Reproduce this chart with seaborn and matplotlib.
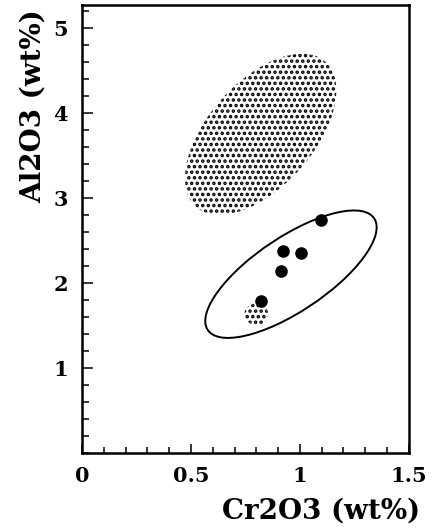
import matplotlib
matplotlib.use("Agg")
import matplotlib.pyplot as plt
from matplotlib.patches import Ellipse
from matplotlib.ticker import MultipleLocator, FixedLocator, FixedFormatter
import seaborn as sns
import pandas as pd

# ---- data ----
cr2o3 = [0.820, 0.913, 0.921, 1.005, 1.096]
al2o3 = [1.792, 2.145, 2.380, 2.357, 2.741]

# stippled field (upper)
field_center = (0.820, 3.747)
field_width = 1.936
field_height = 0.570
field_angle = 77.6

# small stippled patch (lower)
patch_center = (0.80, 1.63)
patch_width = 0.11
patch_height = 0.25
patch_angle = 0.0

# open ellipse around the points
ell_center = (0.959, 2.102)
ell_width = 1.619
ell_height = 0.494
ell_angle = 66.6

x_ticks = [0, 0.5, 1, 1.5]
x_ticklabels = ["0", "0.5", "1", "1.5"]
y_ticks = [1, 2, 3, 4, 5]
y_ticklabels = ["1", "2", "3", "4", "5"]
x_label = "Cr2O3 (wt%)"
y_label = "Al2O3 (wt%)"

# ---- style ----
sns.set_theme(style="ticks")
plt.rcParams["font.family"] = ["DejaVu Serif"]
plt.rcParams["font.weight"] = "bold"
plt.rcParams["hatch.linewidth"] = 1.7
plt.rcParams["hatch.color"] = "black"

fig = plt.figure(figsize=(4.34, 5.31), dpi=100)
ax = fig.add_axes([0.189, 0.147, 0.753, 0.844])

df = pd.DataFrame({"x": cr2o3, "y": al2o3})

ax.add_patch(Ellipse(field_center, field_width, field_height, angle=field_angle,
                     facecolor="none", edgecolor="black", linewidth=0,
                     hatch="...", zorder=1))
ax.add_patch(Ellipse(patch_center, patch_width, patch_height, angle=patch_angle,
                     facecolor="none", edgecolor="black", linewidth=0,
                     hatch="...", zorder=1))
ax.add_patch(Ellipse(ell_center, ell_width, ell_height, angle=ell_angle,
                     facecolor="none", edgecolor="black", linewidth=1.4, zorder=2))

sns.scatterplot(data=df, x="x", y="y", ax=ax, color="black", s=82,
                linewidth=0, zorder=3)

ax.set_xlim(0, 1.5)
ax.set_ylim(0, 5.27)

ax.xaxis.set_major_locator(FixedLocator(x_ticks))
ax.xaxis.set_major_formatter(FixedFormatter(x_ticklabels))
ax.yaxis.set_major_locator(FixedLocator(y_ticks))
ax.yaxis.set_major_formatter(FixedFormatter(y_ticklabels))
ax.xaxis.set_minor_locator(MultipleLocator(0.1))
ax.yaxis.set_minor_locator(MultipleLocator(0.2))

for sp in ax.spines.values():
    sp.set_visible(True)
    sp.set_linewidth(1.8)
    sp.set_color("black")

ax.tick_params(axis="both", which="both", direction="in", color="black",
               width=1.1, top=False, right=False)
ax.tick_params(axis="x", which="major", length=6.5, pad=9.5, labelsize=15)
ax.tick_params(axis="x", which="minor", length=4)
ax.tick_params(axis="y", which="major", length=8, pad=10, labelsize=15)
ax.tick_params(axis="y", which="minor", length=4.7)
for lab in ax.get_xticklabels() + ax.get_yticklabels():
    lab.set_fontweight("bold")
    lab.set_color("black")

ax.set_xlabel(x_label, fontsize=20, fontweight="bold", color="black", ha="right")
ax.set_ylabel(y_label, fontsize=20, fontweight="bold", color="black", ha="right")
ax.xaxis.set_label_coords(1.034, -0.10)
ax.yaxis.set_label_coords(-0.107, 0.989)

fig.savefig("out.png", dpi=100)
